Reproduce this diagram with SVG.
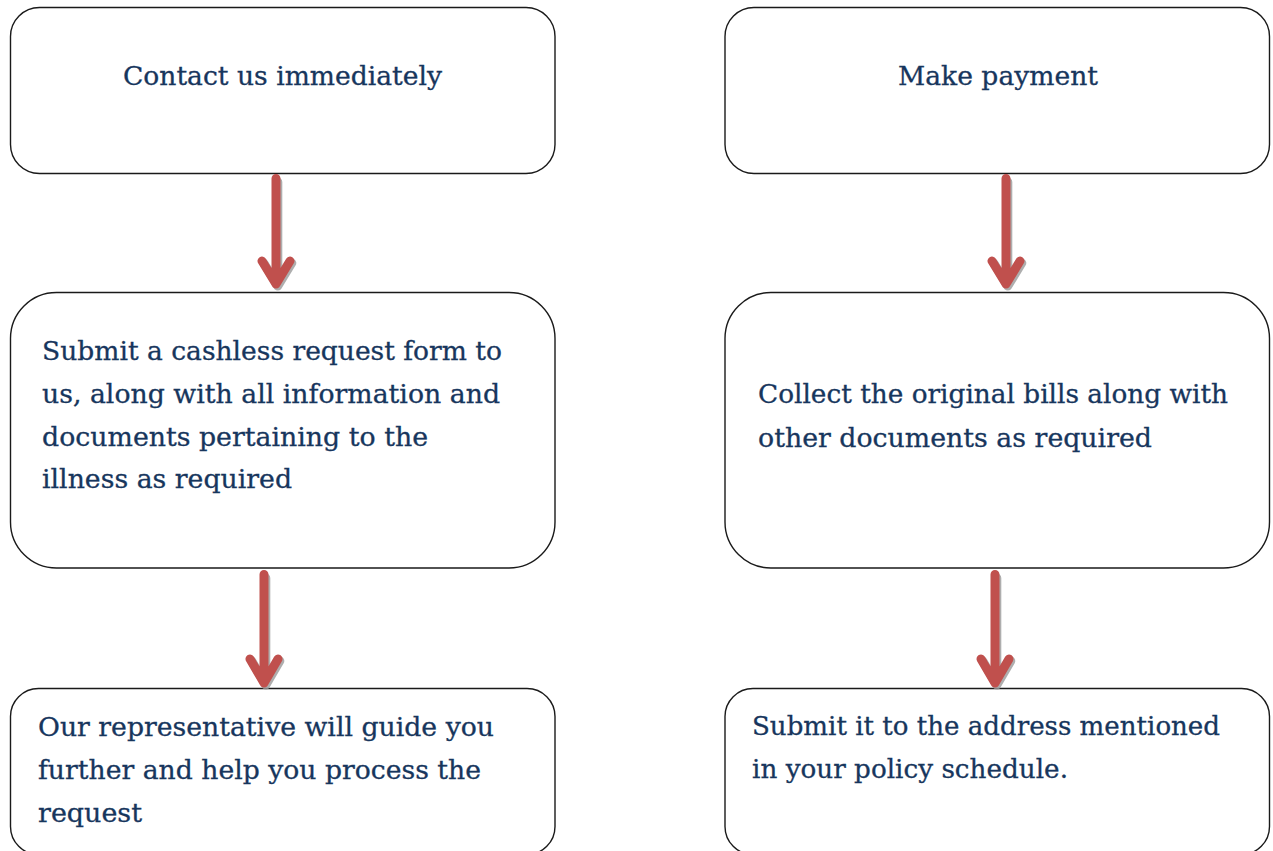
<svg xmlns="http://www.w3.org/2000/svg" width="1273" height="851" viewBox="0 0 1273 851">
  <style>
    .box { fill: #ffffff; stroke: #1a1a1a; stroke-width: 1.4; }
    .label { font-family: "DejaVu Serif", "Liberation Serif", serif; font-size: 26.5px; fill: #17365d; stroke: #17365d; stroke-width: 0.3; }
    .shaft { fill: none; stroke: #c0504d; stroke-width: 9; stroke-linecap: round; stroke-linejoin: round; }
    .shadow { fill: none; stroke: #9a9a9a; stroke-width: 9; stroke-linecap: round; stroke-linejoin: round; opacity: 0.8; }
  </style>
  <rect width="1273" height="851" fill="#ffffff"/>

  <!-- left column -->
  <g id="contact-us">
    <rect class="box" x="10.5" y="7.5" width="544.5" height="166" rx="29" ry="29"/>
    <text class="label" x="282.5" y="85" text-anchor="middle" textLength="319" lengthAdjust="spacingAndGlyphs">Contact us immediately</text>
  </g>
  <g id="submit-request">
    <rect class="box" x="10.5" y="292.5" width="544.5" height="275.5" rx="46" ry="46"/>
    <text class="label" x="42" y="360" textLength="460" lengthAdjust="spacingAndGlyphs">Submit a cashless request form to</text>
    <text class="label" x="42" y="403" textLength="458" lengthAdjust="spacingAndGlyphs">us, along with all information and</text>
    <text class="label" x="42" y="446" textLength="386" lengthAdjust="spacingAndGlyphs">documents pertaining to the</text>
    <text class="label" x="42" y="488" textLength="250" lengthAdjust="spacingAndGlyphs">illness as required</text>
  </g>
  <g id="representative">
    <rect class="box" x="10.5" y="688.5" width="544.5" height="166" rx="28" ry="28"/>
    <text class="label" x="38" y="736" textLength="456" lengthAdjust="spacingAndGlyphs">Our representative will guide you</text>
    <text class="label" x="38" y="779" textLength="443" lengthAdjust="spacingAndGlyphs">further and help you process the</text>
    <text class="label" x="38" y="822" textLength="104" lengthAdjust="spacingAndGlyphs">request</text>
  </g>

  <!-- right column -->
  <g id="make-payment">
    <rect class="box" x="725" y="7.5" width="544.5" height="166" rx="29" ry="29"/>
    <text class="label" x="998" y="85" text-anchor="middle" textLength="200" lengthAdjust="spacingAndGlyphs">Make payment</text>
  </g>
  <g id="collect-bills">
    <rect class="box" x="725" y="292.5" width="544.5" height="275.5" rx="46" ry="46"/>
    <text class="label" x="758" y="403" textLength="470" lengthAdjust="spacingAndGlyphs">Collect the original bills along with</text>
    <text class="label" x="758" y="447" textLength="394" lengthAdjust="spacingAndGlyphs">other documents as required</text>
  </g>
  <g id="submit-address">
    <rect class="box" x="725" y="688.5" width="544.5" height="166" rx="28" ry="28"/>
    <text class="label" x="752" y="735" textLength="468" lengthAdjust="spacingAndGlyphs">Submit it to the address mentioned</text>
    <text class="label" x="752" y="778" textLength="316" lengthAdjust="spacingAndGlyphs">in your policy schedule.</text>
  </g>

  <!-- connectors: red arrows with a soft grey drop shadow -->
  <g id="connectors">
    <g transform="translate(1.8,2)">
      <path class="shadow" d="M276 180 V284 M262 261 L276 284 L290 261"/>
      <path class="shadow" d="M264 576 V683 M250 659 L264 683 L278 659"/>
      <path class="shadow" d="M1006 180 V284 M992 261 L1006 284 L1020 261"/>
      <path class="shadow" d="M995 576 V683 M981 659 L995 683 L1009 659"/>
    </g>
    <path class="shaft" d="M276 178.5 V284 M262 261 L276 284 L290 261"/>
    <path class="shaft" d="M264 574.5 V683 M250 659 L264 683 L278 659"/>
    <path class="shaft" d="M1006 178.5 V284 M992 261 L1006 284 L1020 261"/>
    <path class="shaft" d="M995 574.5 V683 M981 659 L995 683 L1009 659"/>
  </g>
</svg>
